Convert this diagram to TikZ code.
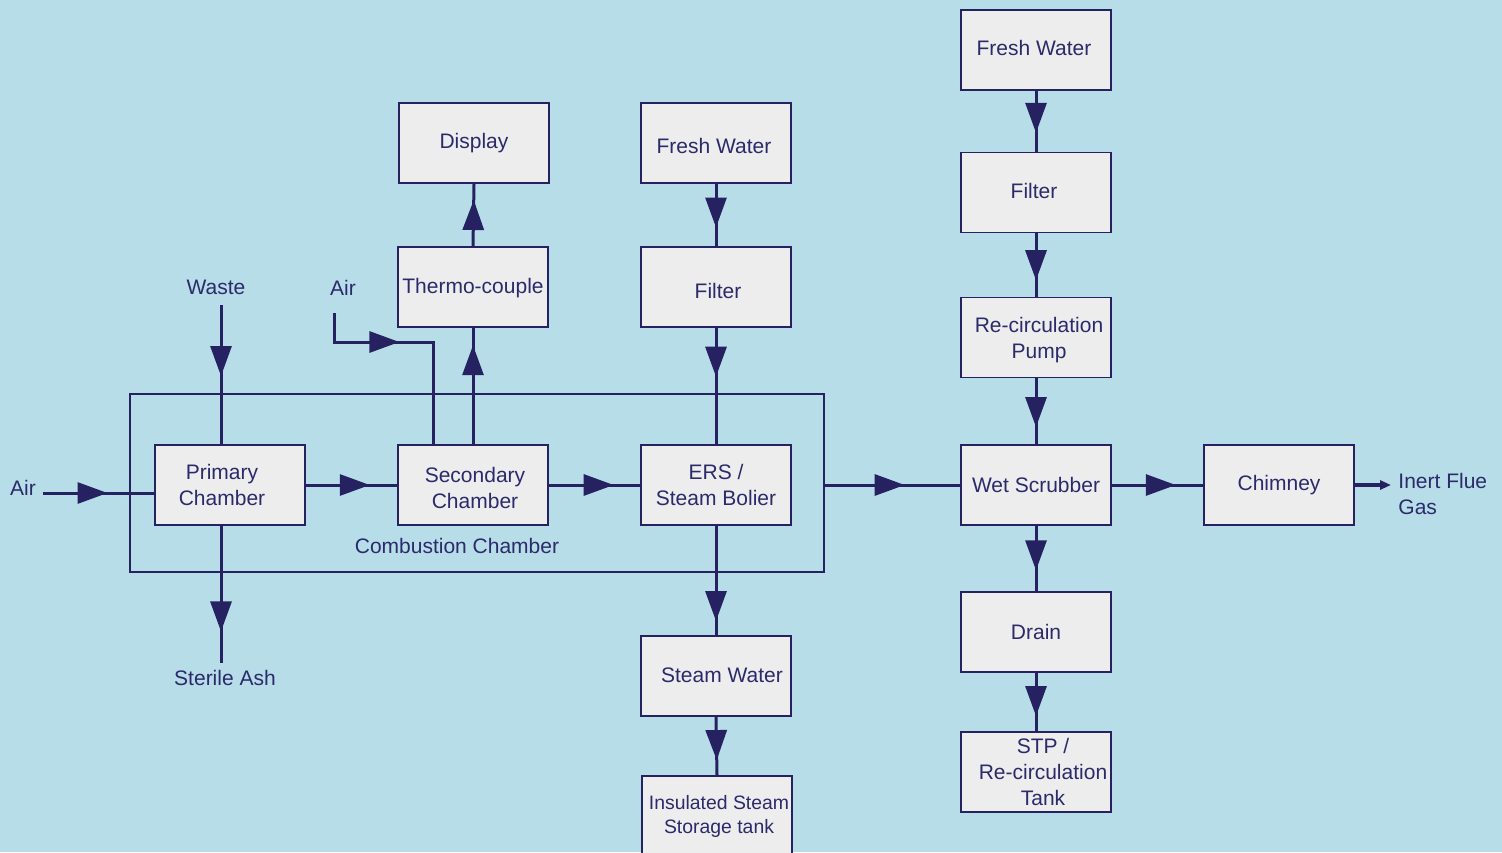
\documentclass[tikz,border=0pt]{standalone}
\usepackage{fontspec}
\setmainfont{Liberation Sans}
\usetikzlibrary{arrows.meta,decorations.markings,calc}
\definecolor{bg}{HTML}{B7DDE8}
\definecolor{boxfill}{HTML}{EDEDED}
\definecolor{navy}{HTML}{262262}
\definecolor{txt}{HTML}{2B2A6A}
\begin{document}
\begin{tikzpicture}[x=0.5pt,y=-0.5pt,
  font=\fontsize{10.5}{13}\selectfont,
  every node/.style={text=txt},
  box/.style={draw=navy, fill=boxfill, line width=0.75pt, minimum width=75pt, minimum height=40pt, inner sep=0pt, align=center},
  flow/.style={draw=navy, color=navy, line width=1.5pt, postaction={decorate, decoration={markings, mark=at position #1 with {\arrow{Triangle[length=15pt,width=10.5pt]}}}}},
  lbl/.style={inner sep=0pt, align=center, text=txt}
]
\path[use as bounding box, fill=bg] (0,0) rectangle (1502,852);
\clip (0,0) rectangle (1502,852);

% combustion chamber enclosure
\node[draw=navy, line width=0.75pt, minimum width=347pt, minimum height=89pt, inner sep=0pt] (cc) at (477,483) {};
\node[lbl] (cclbl) at (457,546) {Combustion Chamber};

% boxes
\node[box] (d) at (474,143) {Display};
\node[box, label={[lbl, yshift=-0.5pt]center:Thermo-couple}] (t) at (473,287) {};
\node[box, label={[lbl, xshift=-1pt, yshift=-1.5pt]center:Fresh Water}] (fw) at (716,143) {};
\node[box, label={[lbl, xshift=1pt, yshift=-2pt]center:Filter}] (f) at (716,287) {};
\node[box, label={[lbl, xshift=-4pt]center:{Primary\\Chamber}}] (p) at (230,485) {};
\node[box, label={[lbl, xshift=1pt, yshift=-1.5pt]center:{Secondary\\Chamber}}] (s) at (473,485) {};
\node[box] (e) at (716,485) {ERS /\\Steam Bolier};
\node[box, label={[lbl, xshift=3pt, yshift=0.5pt]center:Steam Water}] (sw) at (716,676) {};
\node[box, label={[lbl, font=\fontsize{9.7}{12}\selectfont, xshift=1pt]center:{Insulated Steam\\Storage tank}}] (ins) at (717,816) {};
\node[box, label={[lbl, xshift=-1pt, yshift=1pt]center:Fresh Water}] (fw2) at (1036,50) {};
\node[box, label={[lbl, xshift=-1pt, yshift=1pt]center:Filter}] (f2) at (1036,192.5) {};
\node[box, label={[lbl, xshift=1.5pt, yshift=-1.5pt]center:{Re-circulation\\Pump}}] (rp) at (1036,337.5) {};
\node[box] (ws) at (1036,485) {Wet Scrubber};
\node[box] (dr) at (1036,632) {Drain};
\node[box, label={[lbl, xshift=3.5pt]center:{STP /\\Re-circulation\\Tank}}] (stp) at (1036,772) {};
\node[box] (ch) at (1279,485) {Chimney};

% free labels
\node[lbl] (airLtxt) at (23,488) {Air};
\node[lbl] (wastetxt) at (216,287) {Waste};
\node[lbl] (airMtxt) at (343,288) {Air};
\node[lbl] (ashtxt) at (225,678) {Sterile Ash};
\node[lbl, anchor=west, align=left] (inerttxt) at (1398,494) {Inert Flue\\Gas};

% free ends
\coordinate (airL) at (43,493);
\coordinate (waste) at (221,305);
\coordinate (ash) at (221,663);
\coordinate (airM) at (334,313);
\coordinate (bend) at (433,342);
\coordinate (inert) at (1391,485);

% connectors
\draw[flow=0.58] (airL) -- (airL -| p.west);
\draw[flow=0.51] (waste) -- (waste |- p.north);
\draw[flow=0.77] (waste |- p.south) -- (ash);
\draw[flow=0.70] (p.east) -- (s.west);
\draw[flow=0.41] (airM) |- (bend) -- (bend |- s.north);
\draw[flow=0.85] (s.north) -- (t.south);
\draw[flow=0.74] (t.north) -- (d.south);
\draw[flow=0.71] (s.east) -- (e.west);
\draw[flow=0.70] (fw.south) -- (f.north);
\draw[flow=0.42] (f.south) -- (e.north);
\draw[flow=0.87] (e.south) -- (sw.north);
\draw[flow=0.74] (sw.south) -- (ins.north);
\draw[flow=0.59] (ws.west -| cc.east) -- (ws.west);
\draw[flow=0.69] (fw2.south) -- (f2.north);
\draw[flow=0.74] (f2.south) -- (rp.north);
\draw[flow=0.74] (rp.south) -- (ws.north);
\draw[flow=0.68] (ws.south) -- (dr.north);
\draw[flow=0.74] (dr.south) -- (stp.north);
\draw[flow=0.70] (ws.east) -- (ch.west);
\draw[draw=navy, line width=2pt, -{Triangle[length=5.5pt,width=4.5pt]}] (ch.east) -- (inert);
\end{tikzpicture}
\end{document}
